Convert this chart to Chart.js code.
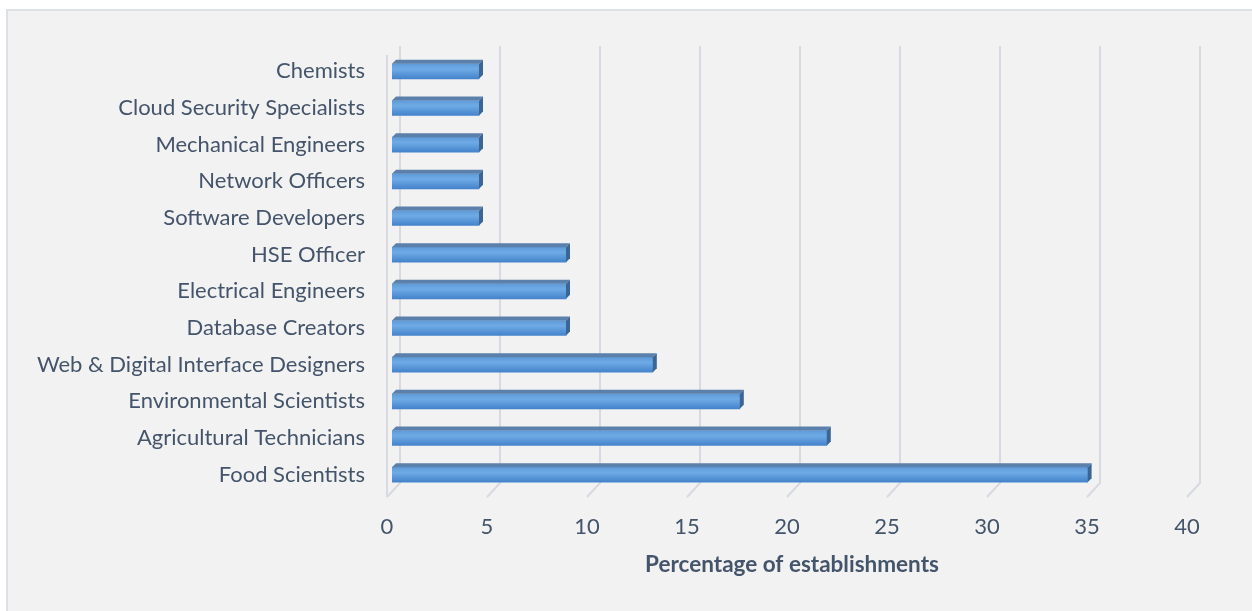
<!DOCTYPE html>
<html lang="en">
<head>
<meta charset="UTF-8">
<title>Percentage of establishments</title>
<style>
  html, body { margin: 0; padding: 0; background: #ffffff; overflow: hidden; }
  .frame {
    position: absolute; left: 6px; top: 9px; width: 1300px; height: 700px;
    background: #f2f2f2; border-left: 2px solid #dde1e6; border-top: 2px solid #dde1e6;
  }
  .wrap { position: absolute; left: 0; top: 0; width: 1252px; height: 611px; }
</style>
</head>
<body>
<div class="frame"></div>
<div class="wrap"><canvas id="chartBar"></canvas></div>

<script src="https://cdn.jsdelivr.net/npm/chart.js"></script>
<script>
// data
const occupations = [
  'Chemists',
  'Cloud Security Specialists',
  'Mechanical Engineers',
  'Network Officers',
  'Software Developers',
  'HSE Officer',
  'Electrical Engineers',
  'Database Creators',
  'Web & Digital Interface Designers',
  'Environmental Scientists',
  'Agricultural Technicians',
  'Food Scientists'
]
const percentages = [4.35, 4.35, 4.35, 4.35, 4.35, 8.7, 8.7, 8.7, 13.04, 17.39, 21.74, 34.78]
const xTicks = [0, 5, 10, 15, 20, 25, 30, 35, 40]
const xTitle = 'Percentage of establishments'

const textColor = '#44546a'
const fontFamily = 'Lato, "Open Sans", sans-serif'

// 3d walls + gridlines (back wall lines, floor diagonals)
const wallPlugin = {
  id: 'walls',
  beforeDatasetsDraw(chart) {
    const ctx = chart.ctx
    const xs = chart.scales.x
    const top = 46, backBottom = 483, frontBottom = 497
    ctx.save()
    ctx.lineWidth = 2
    ctx.strokeStyle = '#d7dae0'
    xTicks.forEach(v => {
      const px = xs.getPixelForValue(v)
      ctx.beginPath()
      ctx.moveTo(px + 8, top)
      ctx.lineTo(px + 8, backBottom)
      ctx.lineTo(px - 5, frontBottom)
      ctx.stroke()
    })
    // front edge of left wall
    const p0 = xs.getPixelForValue(0)
    ctx.beginPath()
    ctx.moveTo(p0 - 5, 55)
    ctx.lineTo(p0 - 5, frontBottom)
    ctx.stroke()
    ctx.restore()
  },
  afterDatasetsDraw(chart) {
    const ctx = chart.ctx
    const meta = chart.getDatasetMeta(0)
    const d = 4
    ctx.save()
    meta.data.forEach(bar => {
      const p = bar.getProps(['x', 'y', 'base', 'height'], true)
      const left = p.base, right = p.x
      const t = p.y - p.height / 2, b = p.y + p.height / 2
      // top face
      ctx.fillStyle = '#5a80ab'
      ctx.beginPath()
      ctx.moveTo(left, t)
      ctx.lineTo(left + d, t - d)
      ctx.lineTo(right + d, t - d)
      ctx.lineTo(right, t)
      ctx.closePath()
      ctx.fill()
      // right face
      ctx.fillStyle = '#3b6592'
      ctx.beginPath()
      ctx.moveTo(right, t)
      ctx.lineTo(right + d, t - d)
      ctx.lineTo(right + d, b - d)
      ctx.lineTo(right, b)
      ctx.closePath()
      ctx.fill()
    })
    ctx.restore()
  }
}

function barFill(c) {
  const chart = c.chart
  if (!chart.chartArea || c.dataIndex === undefined) return '#5b9bd5'
  const y = chart.scales.y.getPixelForValue(c.dataIndex)
  const g = chart.ctx.createLinearGradient(0, y - 7.5, 0, y + 7.5)
  g.addColorStop(0, '#5e9ad8')
  g.addColorStop(0.35, '#6eabe6')
  g.addColorStop(1, '#4483cb')
  return g
}

const config = {
  type: 'bar',
  data: {
    labels: occupations,
    datasets: [{
      data: percentages,
      backgroundColor: barFill,
      borderWidth: 0,
      barThickness: 15
    }]
  },
  options: {
    indexAxis: 'y',
    responsive: true,
    maintainAspectRatio: false,
    animation: false,
    layout: { padding: { top: 53, right: 60, bottom: 28, left: 0 } },
    plugins: { legend: { display: false }, tooltip: { enabled: false } },
    scales: {
      x: {
        min: 0, max: 40,
        afterFit(s) { s.height = 90 },
        afterBuildTicks(s) { s.ticks = xTicks.map(v => ({ value: v })) },
        grid: { display: false, drawTicks: false },
        border: { display: false },
        ticks: {
          color: textColor, padding: 21, labelOffset: -5,
          font: { family: fontFamily, size: 22 }
        },
        title: {
          display: true, text: xTitle, color: textColor,
          font: { family: fontFamily, size: 22.5, weight: 'bold' },
          padding: { top: 0, bottom: 5 }
        }
      },
      y: {
        afterFit(s) { s.width = 392 },
        grid: { display: false, drawTicks: false },
        border: { display: false },
        ticks: {
          color: textColor, padding: 27,
          font: { family: fontFamily, size: 22 }
        }
      }
    }
  },
  plugins: [wallPlugin]
}

new Chart(document.getElementById('chartBar'), config)
</script>
</body>
</html>
